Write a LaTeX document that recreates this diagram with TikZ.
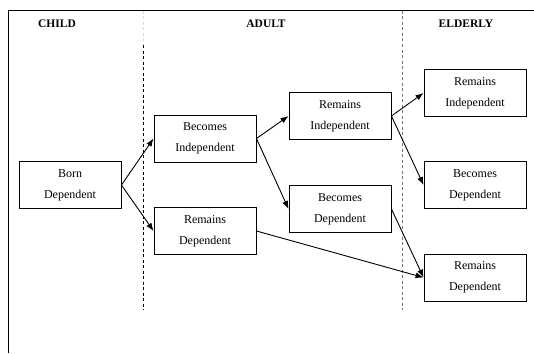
\documentclass[tikz,border=0pt]{standalone}
\usepackage{fontspec}
\setmainfont{Liberation Serif}
\usetikzlibrary{arrows.meta}
\begin{document}
\begin{tikzpicture}[x=1pt,y=-1pt,
  stagebox/.style={draw, line width=0.9pt, minimum width=102pt, minimum height=47pt, inner sep=0pt, align=center,
    font=\fontsize{12}{21}\selectfont},
  hdr/.style={font=\fontsize{11.5}{13}\selectfont\bfseries, inner sep=0pt},
  link/.style={line width=0.9pt, -{Latex[length=8pt,width=6pt]}},
  sep/.style={line width=0.9pt, dash pattern=on 3pt off 2.5pt}]
\useasboundingbox (0,0) rectangle (534,353);
\draw[line width=1pt] (8,353) -- (8,11) -- (534,11);
\draw[sep, black!15] (143,11) -- (143,45);
\draw[sep, black] (143,45) -- (143,310);
\draw[sep, black!55] (402,11) -- (402,310);
\node[hdr] (hc) at (57,24) {CHILD};
\node[hdr] (ha) at (266,24) {ADULT};
\node[hdr] (he) at (466,24) {ELDERLY};
\node[stagebox] (born) at (70,185) {Born\\Dependent};
\node[stagebox] (bi) at (205,138.5) {Becomes\\Independent};
\node[stagebox] (rd) at (205,231) {Remains\\Dependent};
\node[stagebox] (ri) at (340,116) {Remains\\Independent};
\node[stagebox] (bd) at (340,209) {Becomes\\Dependent};
\node[stagebox] (eri) at (475,93) {Remains\\Independent};
\node[stagebox] (ebd) at (475,185) {Becomes\\Dependent};
\node[stagebox] (erd) at (475,277.5) {Remains\\Dependent};
\draw[link] (born.east) -- (bi.west);
\draw[link] (born.east) -- (rd.west);
\draw[link] (bi.east) -- (ri.west);
\draw[link] (bi.east) -- (bd.west);
\draw[link] (ri.east) -- (eri.west);
\draw[link] (ri.east) -- (ebd.west);
\draw[link] (bd.east) -- (erd.west);
\draw[link] (rd.east) -- (erd.west);
\end{tikzpicture}
\end{document}
